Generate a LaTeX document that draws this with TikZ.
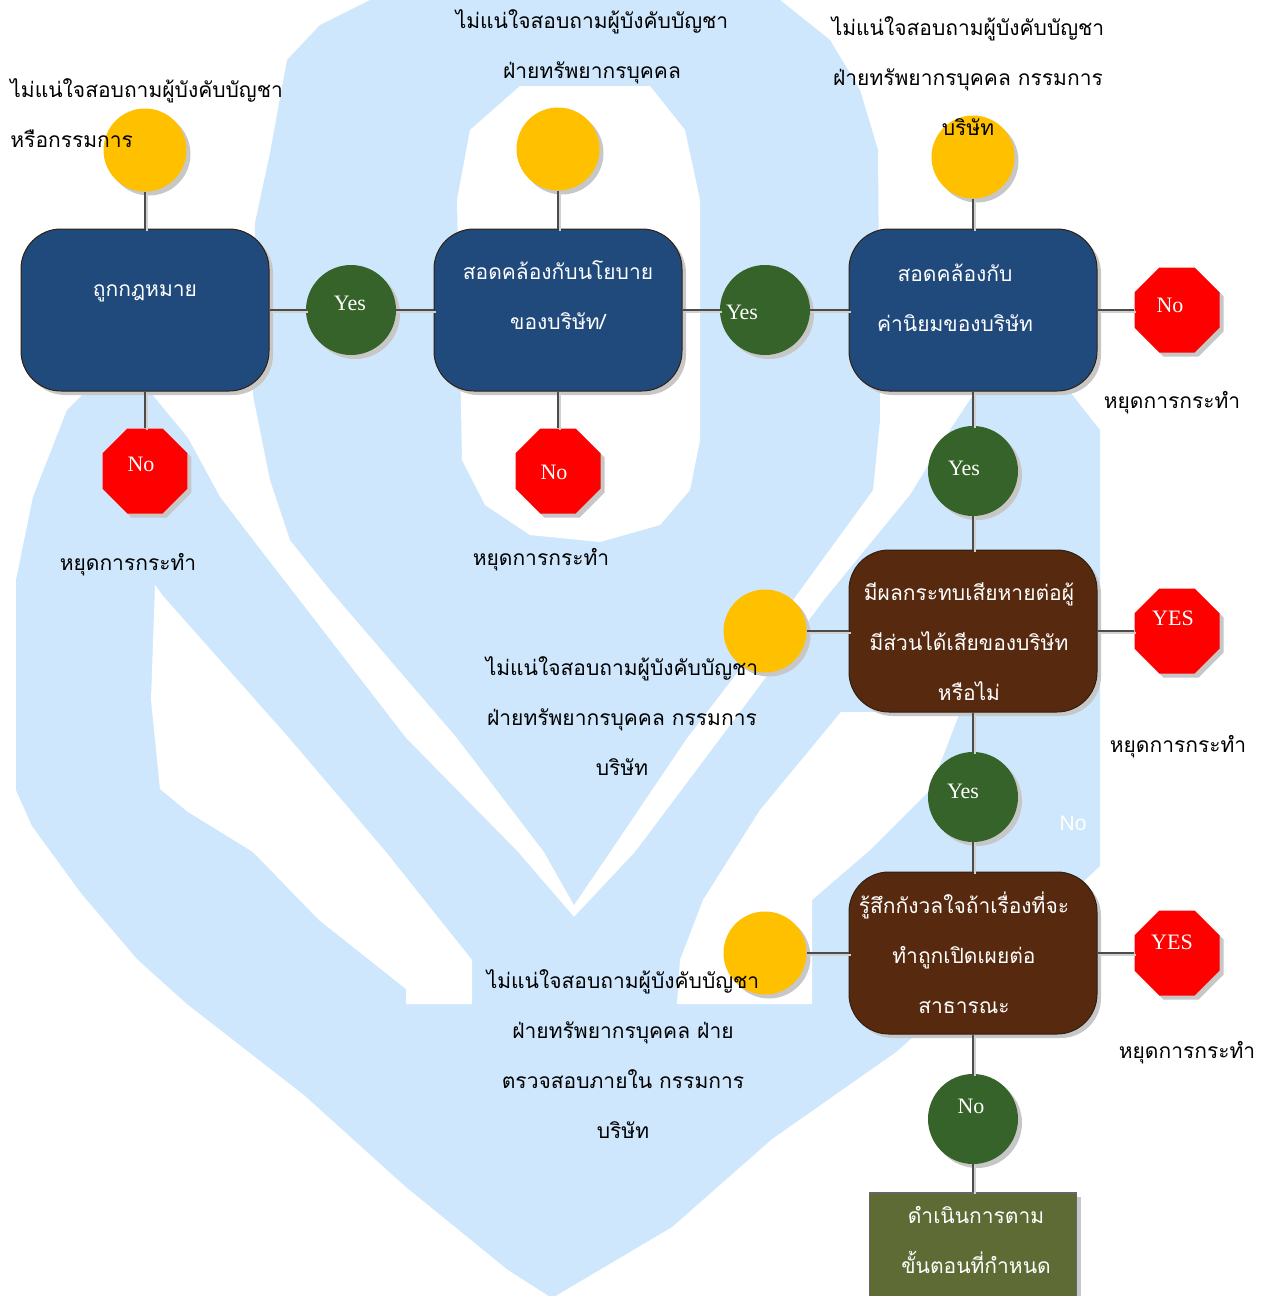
\documentclass[tikz,border=0pt]{standalone}
\usepackage{fontspec}
\setmainfont{Liberation Serif}
\newfontfamily\thai[Script=Thai]{Loma}
\newfontfamily\latsans{Liberation Sans}
\usetikzlibrary{shapes.geometric,shadows}
\definecolor{bgblue}{RGB}{206,231,252}
\definecolor{boxblue}{HTML}{214A7C}
\definecolor{boxbrown}{HTML}{57290F}
\definecolor{dgreen}{HTML}{356329}
\definecolor{ygold}{HTML}{FFC000}
\definecolor{olivebox}{HTML}{5F6B35}
\tikzset{
  shd/.style={drop shadow={shadow xshift=2pt,shadow yshift=-2pt,opacity=1,fill=black!22}},
  qbox/.style={shd,rectangle,rounded corners=20pt,minimum width=124pt,minimum height=81pt,draw=black!75!brown,line width=0.5pt,inner sep=0pt},
  bluebox/.style={qbox,fill=boxblue},
  brownbox/.style={qbox,fill=boxbrown},
  endbox/.style={shd,rectangle,minimum width=103.5pt,minimum height=52pt,fill=olivebox,draw=black!60,line width=0.6pt,inner sep=0pt},
  gcirc/.style={shd,circle,fill=dgreen,minimum size=45pt,inner sep=0pt},
  ycirc/.style={shd,circle,fill=ygold,minimum size=41.5pt,inner sep=0pt},
  stopoct/.style={shd,regular polygon,regular polygon sides=8,fill=red,minimum size=46pt,inner sep=0pt},
  conn/.style={draw=black!70,line width=0.6pt,preaction={draw=black!18,line width=1pt,transform canvas={shift={(1pt,-1pt)}}}},
  thaitxt/.style={font=\thai\fontsize{10.5}{25}\selectfont,align=center,inner sep=0pt},
  wthai/.style={thaitxt,text=white},
  lat/.style={font=\fontsize{11}{13}\selectfont,text=white,inner sep=0pt},
}
\begin{document}
\begin{tikzpicture}[x=0.5pt,y={(0pt,-0.5pt)}]
\useasboundingbox (0,0) rectangle (1268,1296);
\fill[white] (0,0) rectangle (1268,1296);
% background crest
\fill[bgblue] (85,392) -- (150,392) -- (188,438) -- (220,497) -- (253,540) -- (406,738) -- (518,852) -- (574,917) -- (635,852) -- (824,600) -- (910,495) -- (950,430) -- (975,392) -- (1070,392) -- (1100,430) -- (1100,866) -- (1000,960) -- (896,1052) -- (772,1139) -- (672,1227) -- (552,1298) -- (508,1270) -- (406,1187) -- (304,1095) -- (187,1004) -- (137,959) -- (81,893) -- (32,826) -- (16,790) -- (16,580) -- (33,497) -- (49,456) -- (67,410) -- cycle;
\fill[white] (155,585) -- (163,596) -- (289,738) -- (386,852) -- (472,960) -- (472,1004) -- (406,1004) -- (406,989) -- (319,920) -- (253,852) -- (188,812) -- (160,789) -- (151,700) -- cycle;
\fill[white] (841,712) -- (960,712) -- (930,790) -- (870,850) -- (812,900) -- (812,1004) -- (677,1004) -- (680,960) -- (703,900) -- (760,810) -- cycle;
\fill[bgblue] (370,0) -- (780,0) -- (830,40) -- (860,90) -- (878,150) -- (880,420) -- (873,490) -- (793,600) -- (687,738) -- (610,852) -- (574,905) -- (544,852) -- (457,738) -- (330,590) -- (290,540) -- (270,480) -- (253,395) -- (255,223) -- (270,153) -- (287,60) -- (320,25) -- cycle;
\fill[white] (520,86) -- (650,86) -- (685,130) -- (700,200) -- (700,440) -- (690,490) -- (660,525) -- (600,542) -- (530,535) -- (485,505) -- (462,460) -- (457,200) -- (470,130) -- cycle;

% shapes
\node[bluebox] (A) at (145,310) {};
\node[bluebox] (B) at (558,310) {};
\node[bluebox] (C) at (973,310) {};
\node[brownbox] (D) at (973,631) {};
\node[brownbox] (E) at (973,953) {};
\node[endbox] (F) at (973,1245) {};
\node[gcirc] (Yes1) at (351,310) {};
\node[gcirc] (Yes2) at (765,310) {};
\node[gcirc] (Yes3) at (973,471) {};
\node[gcirc] (Yes4) at (973,797) {};
\node[gcirc] (NoG) at (973,1119) {};
\node[ycirc] (Y1) at (145,150) {};
\node[ycirc] (Y2) at (558,149) {};
\node[ycirc] (Y3) at (973,157) {};
\node[ycirc] (Y4) at (765,631) {};
\node[ycirc] (Y5) at (765,953) {};
\node[stopoct] (R1) at (145,471) {};
\node[stopoct] (R2) at (558,471) {};
\node[stopoct] (Rno) at (1177,310) {};
\node[stopoct] (RY1) at (1177,631) {};
\node[stopoct] (RY2) at (1177,953) {};

% connectors
\draw[conn] (Y1) -- (A);
\draw[conn] (Y2) -- (B);
\draw[conn] (Y3) -- (C);
\draw[conn] (A) -- (Yes1);
\draw[conn] (Yes1) -- (B);
\draw[conn] (B) -- (Yes2);
\draw[conn] (Yes2) -- (C);
\draw[conn] (C) -- (Rno);
\draw[conn] (A) -- (R1);
\draw[conn] (B) -- (R2);
\draw[conn] (C) -- (Yes3);
\draw[conn] (Yes3) -- (D);
\draw[conn] (Y4) -- (D);
\draw[conn] (D) -- (RY1);
\draw[conn] (D) -- (Yes4);
\draw[conn] (Yes4) -- (E);
\draw[conn] (Y5) -- (E);
\draw[conn] (E) -- (RY2);
\draw[conn] (E) -- (NoG);
\draw[conn] (NoG) -- (F);

% labels in shapes
\node[lat] (lYes1) at (350,303) {Yes};
\node[lat] (lYes2) at (742,312) {Yes};
\node[lat] (lYes3) at (964,468) {Yes};
\node[lat] (lYes4) at (963,791) {Yes};
\node[lat] (lNoG) at (971,1106) {No};
\node[lat] (lR1) at (141,464) {No};
\node[lat] (lR2) at (554,472) {No};
\node[lat] (lRno) at (1170,305) {No};
\node[lat] (lRY1) at (1173,618) {YES};
\node[lat] (lRY2) at (1172,942) {YES};
\node[lat,font=\latsans\fontsize{10.5}{12}\selectfont] (wNo) at (1073,823) {No};

% box texts
\node[wthai] (tA) at (145,293) {ถูกกฎหมาย};
\node[wthai] (tB) at (558,295) {สอดคล้องกับนโยบาย\\ของบริษัท/};
\node[wthai] (tC) at (955,298) {สอดคล้องกับ\\ค่านิยมของบริษัท};
\node[wthai] (tD) at (969,642) {มีผลกระทบเสียหายต่อผู้\\มีส่วนได้เสียของบริษัท\\หรือไม่};
\node[wthai] (tE) at (964,953) {รู้สึกกังวลใจถ้าเรื่องที่จะ\\ทำถูกเปิดเผยต่อ\\สาธารณะ};
\node[wthai] (tF) at (976,1240) {ดำเนินการตาม\\ขั้นตอนที่กำหนด};

% advice texts
\node[thaitxt,align=left,anchor=west] (T1) at (10,113) {ไม่แน่ใจสอบถามผู้บังคับบัญชา\\หรือกรรมการ};
\node[thaitxt] (T2) at (592,47) {ไม่แน่ใจสอบถามผู้บังคับบัญชา\\ฝ่ายทรัพยากรบุคคล};
\node[thaitxt] (T3) at (968,76) {ไม่แน่ใจสอบถามผู้บังคับบัญชา\\ฝ่ายทรัพยากรบุคคล กรรมการ\\บริษัท};
\node[thaitxt] (T4) at (622,716) {ไม่แน่ใจสอบถามผู้บังคับบัญชา\\ฝ่ายทรัพยากรบุคคล กรรมการ\\บริษัท};
\node[thaitxt] (T5) at (623,1054) {ไม่แน่ใจสอบถามผู้บังคับบัญชา\\ฝ่ายทรัพยากรบุคคล ฝ่าย\\ตรวจสอบภายใน กรรมการ\\บริษัท};

% stop texts
\node[thaitxt] (S1) at (128,565) {หยุดการกระทำ};
\node[thaitxt] (S2) at (541,560) {หยุดการกระทำ};
\node[thaitxt] (S3) at (1172,403) {หยุดการกระทำ};
\node[thaitxt] (S4) at (1178,747) {หยุดการกระทำ};
\node[thaitxt] (S5) at (1187,1053) {หยุดการกระทำ};
\end{tikzpicture}
\end{document}
